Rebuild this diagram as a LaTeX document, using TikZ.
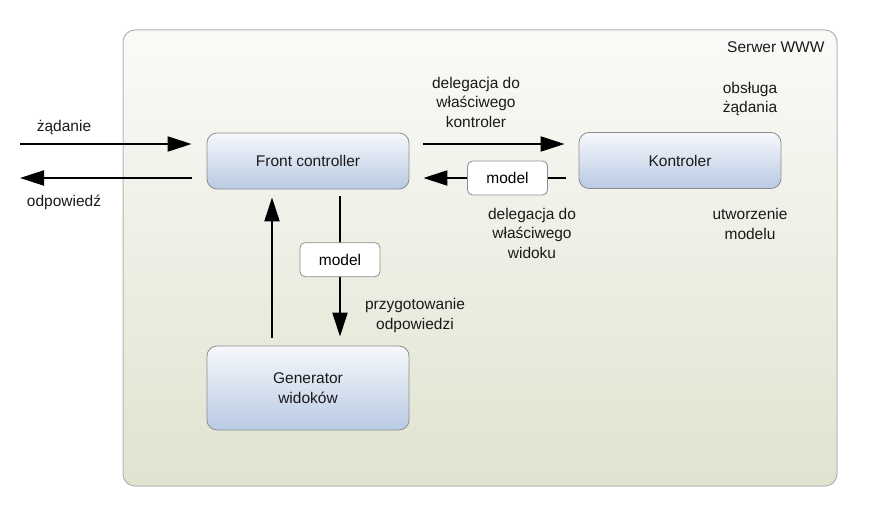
\documentclass[tikz,border=0pt]{standalone}
\usepackage{fontspec}
\setmainfont{Liberation Sans}
\usetikzlibrary{
  arrows.meta,
  positioning
}
\definecolor{mvcboxtop}{HTML}{F6F8FB}
\definecolor{mvcboxbottom}{HTML}{B9CAE4}
\definecolor{mvcedge}{HTML}{8E8E8E}
\definecolor{mvcsrvtop}{HTML}{FAFAF8}
\definecolor{mvcsrvbottom}{HTML}{E0E3CF}
\definecolor{mvcsrvedge}{HTML}{B4B4B4}
\definecolor{mvctext}{HTML}{1A1A1A}

\begin{document}
\begin{tikzpicture}[x=1pt, y=-1pt,
      server/.style={
        rectangle, rounded corners=12pt,
        minimum width=714pt, minimum height=456pt,
        draw=mvcsrvedge, line width=1pt,
        top color=mvcsrvtop, bottom color=mvcsrvbottom
      },
      box/.style={
        rectangle, rounded corners=10pt,
        minimum width=202pt, minimum height=56pt,
        draw=mvcedge, line width=0.8pt,
        top color=mvcboxtop, bottom color=mvcboxbottom,
        font=\fontsize{15.5}{19.5}\selectfont\color{mvctext}, align=center
      },
      modelbox/.style={
        rectangle, rounded corners=5pt,
        minimum width=80pt, minimum height=34pt,
        draw=mvcedge, line width=0.8pt, fill=white,
        font=\fontsize{15.5}{19.5}\selectfont\color{mvctext}
      },
      arrow/.style={-{Triangle[length=24pt, width=15pt]}, line width=2pt, black},
      label/.style={font=\fontsize{15.5}{19.5}\selectfont\color{mvctext}, align=center}
    ]
      \useasboundingbox (0,0) rectangle (873,516);
      \node[server] (srv) at (480,258) {};
      \node[label, anchor=east] (srvname) at (828,47) {Serwer WWW};

      \node[box] (fc) at (308,161) {Front controller};
      \node[box] (ctrl) at (680,160.5) {Kontroler};
      \node[box, minimum height=84pt] (gen) at (308,388) {Generator\\widoków};

      % wejscie i wyjscie
      \coordinate (reqin) at (20,144);
      \coordinate (respout) at (20,178);
      \draw[arrow, shorten >=15pt] (reqin) -- (reqin -| fc.west);
      \draw[arrow, shorten <=15pt] (respout -| fc.west) -- (respout);
      \node[label] (req) at (64,128) {żądanie};
      \node[label] (resp) at (64,202) {odpowiedź};

      % delegacja
      \draw[arrow, shorten <=14pt, shorten >=14pt]
        ([yshift=17pt]fc.east) -- ([yshift=17pt]fc.east -| ctrl.west);
      \draw[arrow, shorten <=13pt, shorten >=14pt]
        ([yshift=-17pt]fc.east -| ctrl.west)
          -- node[modelbox, pos=0.42] (mdlctrl) {model} ([yshift=-17pt]fc.east);

      % widok
      \draw[arrow, shorten <=8pt, shorten >=8pt]
        ([xshift=-36pt]gen.north) -- ([xshift=-36pt]fc.south);
      \draw[arrow, shorten <=7pt, shorten >=9pt]
        ([xshift=32pt]fc.south)
          -- node[modelbox, pos=0.45] (mdlview) {model} ([xshift=32pt]gen.north);

      \node[label] (delctrl) at (476,102) {delegacja do\\właściwego\\kontroler};
      \node[label] (handle) at (750,99) {obsługa\\żądania};
      \node[label] (delview) at (532,233) {delegacja do\\właściwego\\widoku};
      \node[label] (create) at (750,224) {utworzenie\\modelu};
      \node[label] (prep) at (415,315.5) {przygotowanie\\odpowiedzi};
    \end{tikzpicture}
\end{document}
